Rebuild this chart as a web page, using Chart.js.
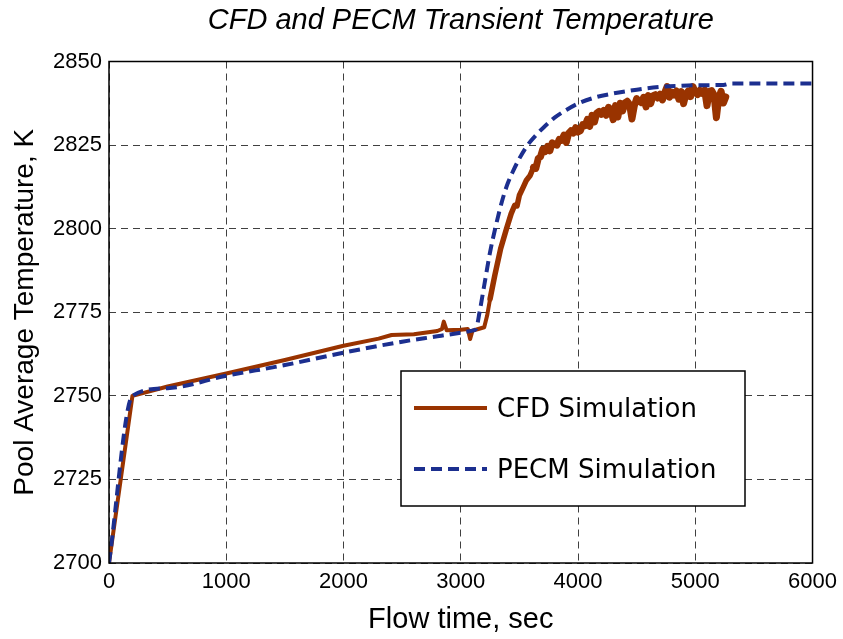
<!DOCTYPE html>
<html lang="en">
<head>
  <meta charset="UTF-8" />
  <title>CFD and PECM Transient Temperature</title>
  <style>
    body { margin: 0; background: #fff; }
    .chart-wrapper { width: 843px; height: 639px; }
  </style>
</head>
<body>
  <div class="chart-wrapper">
    <canvas id="myChart"></canvas>
  </div>
  <script src="https://cdn.jsdelivr.net/npm/chart.js"></script>
  <script>
    const chartTitle = 'CFD and PECM Transient Temperature';
    const xTitle = 'Flow time, sec';
    const yTitle = 'Pool Average Temperature, K';
    const seriesNames = ['CFD Simulation', 'PECM Simulation'];

    // CFD run (noisy once the pool heats up)
    const cfdTime = [0, 200, 500, 1000, 1500, 2000, 2300, 2410, 2600, 2800, 2840, 2855, 2880, 3000, 3060, 3080, 3100,
      3150, 3200, 3225, 3250, 3290, 3340, 3390, 3430, 3460, 3480, 3500, 3530, 3560, 3590, 3620, 3640, 3661, 3680,
      3700, 3720, 3740, 3760, 3780, 3800, 3820, 3840, 3860, 3880, 3900, 3920, 3940, 3960, 3980,
      4000, 4020, 4040, 4060, 4080, 4100, 4120, 4140, 4160, 4180, 4200, 4220, 4240, 4260, 4280,
      4300, 4320, 4340, 4360, 4380, 4400, 4420, 4440, 4460, 4480, 4500, 4520, 4540, 4560, 4580,
      4600, 4620, 4640, 4660, 4680, 4700, 4720, 4740, 4760, 4780, 4800, 4820, 4840, 4860, 4880,
      4900, 4920, 4940, 4960, 4980, 5000, 5020, 5040, 5060, 5080, 5100, 5120, 5140, 5160, 5180,
      5200, 5220, 5240, 5260];
    const cfdTemp = [2700, 2750, 2752.8, 2756.7, 2760.7, 2765.0, 2767.1, 2768.2, 2768.4, 2769.4, 2770.0, 2772.2, 2769.6, 2769.8, 2770.0, 2767.0, 2769.5,
      2770.0, 2770.5, 2774.0, 2779.0, 2786.0, 2794.0, 2800.0, 2804.5, 2807.0, 2806.8, 2810.0, 2812.2, 2814.5, 2815.8, 2818.3, 2818.0, 2821.0, 2821.5,
      2823.8, 2823.1, 2824.6, 2823.3, 2825.7, 2825.2, 2825.0, 2826.7, 2826.4, 2828.0, 2825.8, 2828.5, 2829.3, 2828.6, 2830.2,
      2828.9, 2829.3, 2831.1, 2830.8, 2832.7, 2830.6, 2833.9, 2831.9, 2834.6, 2835.1, 2834.2, 2835.4, 2833.9, 2836.3, 2835.6,
      2832.6, 2836.8, 2833.4, 2837.5, 2835.2, 2837.6, 2838.1, 2837.1, 2832.8, 2836.7, 2838.9, 2838.2, 2837.7, 2839.3, 2836.4,
      2839.8, 2837.4, 2839.8, 2840.1, 2839.1, 2840.2, 2838.5, 2840.7, 2842.5, 2839.3, 2840.8, 2840.0, 2841.2, 2838.7, 2841.0,
      2837.4, 2840.2, 2841.2, 2839.5, 2842.5, 2840.8, 2840.1, 2841.4, 2840.5, 2841.5, 2836.8, 2841.1, 2841.3, 2840.0, 2833.2,
      2839.1, 2841.1, 2837.6, 2839.4];

    // PECM model
    const pecmTime = [0, 200, 500, 1000, 1500, 2000, 2500, 2800, 3000, 3100, 3130, 3160, 3200, 3250, 3300, 3350, 3400,
      3450, 3500, 3570, 3650, 3713, 3800, 3900, 4000, 4150, 4280, 4430, 4564, 4700, 4850, 5000, 5240, 5300, 6000];
    const pecmTemp = [2700, 2750, 2752.3, 2756.0, 2759.2, 2762.9, 2766.2, 2767.8, 2768.9, 2769.5, 2770.0, 2775.0, 2783.0, 2793.0, 2801.0, 2808.0, 2813.5,
      2817.5, 2821.0, 2825.0, 2828.3, 2830.5, 2833.2, 2835.5, 2837.4, 2839.3, 2840.3, 2841.2, 2841.9, 2842.4, 2842.7, 2842.9, 2843.0, 2843.4, 2843.4];

    const cfdColor = '#993300';
    const pecmColor = '#1c2f8f';
    const axisFont = '"Liberation Sans", Arial, sans-serif';

    function toPoints(xs, ys) {
      return xs.map((x, i) => ({ x: x, y: ys[i] }));
    }

    // plot frame, title above the plot and the boxed legend inside it
    const decorPlugin = {
      id: 'decor',
      afterDraw(chart) {
        const { ctx, chartArea: a } = chart;
        ctx.save();
        ctx.strokeStyle = '#000';
        ctx.lineWidth = 1.5;
        ctx.strokeRect(a.left, a.top, a.right - a.left, a.bottom - a.top);

        ctx.fillStyle = '#000';
        ctx.font = 'italic 29px ' + axisFont;
        ctx.textAlign = 'center';
        ctx.textBaseline = 'middle';
        ctx.fillText(chartTitle, (a.left + a.right) / 2, 21);

        // legend box
        const bx = 401, by = 371, bw = 344, bh = 135;
        ctx.fillStyle = '#fff';
        ctx.fillRect(bx, by, bw, bh);
        ctx.lineWidth = 1.5;
        ctx.strokeStyle = '#000';
        ctx.strokeRect(bx, by, bw, bh);

        const rows = [408, 469];
        chart.data.datasets.slice().sort((p, q) => p.legendIndex - q.legendIndex).forEach((ds, i) => {
          const y = rows[i];
          ctx.beginPath();
          ctx.strokeStyle = ds.borderColor;
          ctx.lineWidth = ds.borderWidth;
          ctx.setLineDash(ds.borderDash || []);
          ctx.moveTo(414, y);
          ctx.lineTo(487, y);
          ctx.stroke();
          ctx.setLineDash([]);
          ctx.fillStyle = '#000';
          ctx.font = '26px "DejaVu Sans", sans-serif';
          ctx.textAlign = 'left';
          ctx.textBaseline = 'middle';
          ctx.fillText(ds.label, 497, y + 2);
        });
        ctx.restore();
      }
    };

    const ctx = document.getElementById('myChart').getContext('2d');
    const myChart = new Chart(ctx, {
      type: 'line',
      data: {
        datasets: [
          {
            label: seriesNames[1],
            legendIndex: 1,
            data: toPoints(pecmTime, pecmTemp),
            borderColor: pecmColor,
            borderWidth: 4,
            borderDash: [11, 6],
            cubicInterpolationMode: 'monotone',
            pointRadius: 0,
            fill: false
          },
          {
            label: seriesNames[0],
            legendIndex: 0,
            data: toPoints(cfdTime, cfdTemp),
            borderColor: cfdColor,
            borderWidth: 4,
            borderJoinStyle: 'round',
            borderCapStyle: 'round',
            tension: 0,
            pointRadius: 0,
            fill: false,
            // the noisy part of the run reads as a thicker band
            segment: {
              borderWidth: c => c.p0.parsed.x >= 3600 ? 7 : (c.p0.parsed.x >= 3250 ? 5.5 : 4)
            }
          }
        ]
      },
      options: {
        responsive: true,
        maintainAspectRatio: false,
        animation: false,
        layout: { padding: { top: 61.5, right: 28, left: 0, bottom: 0 } },
        plugins: {
          legend: { display: false },
          tooltip: { enabled: false },
          title: { display: false }
        },
        scales: {
          x: {
            type: 'linear',
            min: 0,
            max: 6000,
            afterFit: s => { s.height = 76; },
            ticks: {
              stepSize: 1000,
              padding: 6,
              color: '#000',
              font: { family: axisFont, size: 22 },
              maxRotation: 0,
              callback: v => String(v)
            },
            grid: {
              color: 'rgba(0,0,0,0.75)',
              lineWidth: 1,
              drawTicks: false
            },
            border: { display: false, dash: [7, 5] },
            title: {
              display: true,
              text: xTitle,
              color: '#000',
              font: { family: axisFont, size: 29 },
              padding: { top: 0, bottom: 2 }
            }
          },
          y: {
            min: 2700,
            max: 2850,
            afterFit: s => { s.width = 109; },
            ticks: {
              stepSize: 25,
              padding: 7,
              color: '#000',
              font: { family: axisFont, size: 22 },
              callback: v => String(v)
            },
            grid: {
              color: 'rgba(0,0,0,0.75)',
              lineWidth: 1,
              drawTicks: false
            },
            border: { display: false, dash: [7, 5] },
            title: {
              display: true,
              text: yTitle,
              color: '#000',
              font: { family: axisFont, size: 28 },
              padding: { top: 8, bottom: 0 }
            }
          }
        }
      },
      plugins: [decorPlugin]
    });
  </script>
</body>
</html>
